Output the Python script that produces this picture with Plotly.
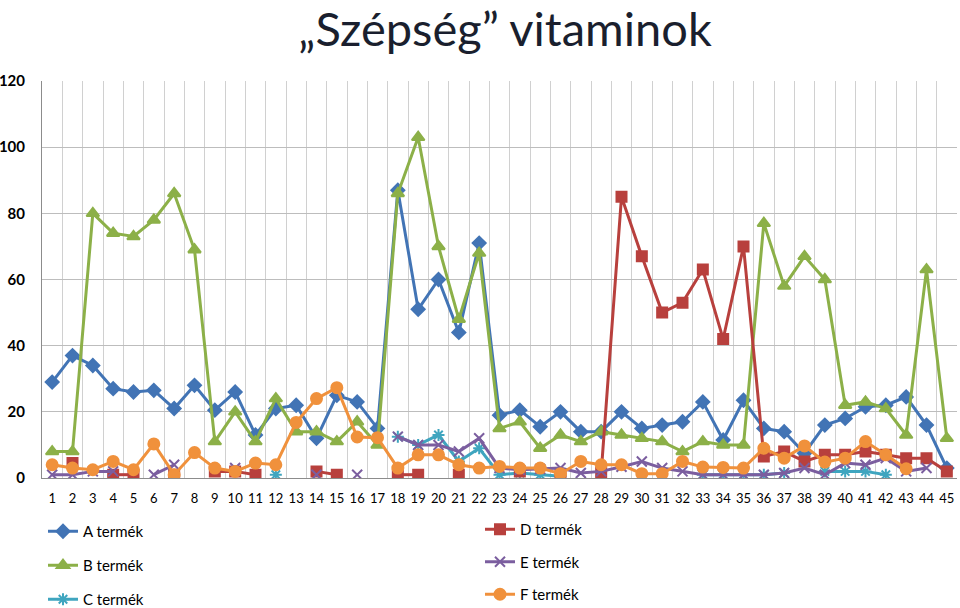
import plotly.graph_objects as go

categories = list(range(1, 46))

a_termek = [29, 37, 34, 27, 26, 26.5, 21, 28, 20.5, 26, 13, 21, 22, 12, 25, 23, 15, 87, 51, 60,
            44, 71, 19, 20.5, 15.5, 20, 14, 14, 20, 15, 16, 17, 23, 11.5, 23.5, 15, 14, 7.5, 16, 18,
            21.5, 22, 24.5, 16, 3]
b_termek = [8, 8, 80, 74, 73, 78, 86, 69, 11, 20, 11, 24, 14, 14, 11, 17, 10, 86, 103, 70,
            48, 68, 15, 17, 9, 13, 11, 14, 13, 12, 11, 8, 11, 10, 10, 77, 58, 67, 60, 22,
            23, 21, 13, 63, 12]
c_termek = [None, None, None, None, None, None, None, None, None, None, None, 1, None, None, None, None, None, 12.5, 10, 13,
            5, 9, 1, 1.5, 1, 0.5, None, 2, None, None, None, None, 1, 1, 1, 1, 1.5, None, 2, 2,
            2, 1, None, None, None]
d_termek = [None, 4.5, None, 1, 1, None, 1, None, 2, 2, 1, None, None, 2, 1, None, None, 1, 1, None,
            1, None, None, 2, None, 1, None, 1.5, 85, 67, 50, 53, 63, 42, 70, 6.5, 8, 5, 7, 7,
            8, 7, 6, 6, 2]
e_termek = [1, 1, 2, 2, None, 1, 4, None, None, 3, None, None, None, 1, None, 1, None, 12.5, 10, 10,
            8, 12, 3, 2.5, 2.7, 3, 1.5, 2, 3.4, 5, 3, 2, 1, 1, 1, 1, 1.5, 3, 1, 4.5,
            4, 6, 2, 3, None]
f_termek = [4, 3, 2.5, 5, 2.5, 10.3, 1, 7.7, 3, 2, 4.5, 4, 16.8, 24, 27.3, 12.4, 12.2, 3, 7, 7,
            4, 3, 3.5, 3, 3, 1.3, 5, 4, 4, 1.3, 1.3, 5, 3.3, 3.2, 3, 9, 6, 9.7, 4.8, 6,
            11, 7, 2.8, None, None]

series = [
    ("A termék", a_termek, "#4274B5", "diamond", 10, "legend"),
    ("B termék", b_termek, "#8CB048", "triangle-up", 11, "legend"),
    ("C termék", c_termek, "#3FA5BF", "asterisk-open", 10, "legend"),
    ("D termék", d_termek, "#B8403D", "square", 10, "legend2"),
    ("E termék", e_termek, "#7B5E9F", "x-thin-open", 10, "legend2"),
    ("F termék", f_termek, "#F0913C", "circle", 11, "legend2"),
]

fig = go.Figure()
for name, vals, color, sym, size, lg in series:
    fig.add_trace(go.Scatter(
        x=categories, y=vals, name=name, mode="lines+markers",
        line=dict(color=color, width=3),
        marker=dict(symbol=sym, size=size, color=color,
                    line=dict(color=color, width=2)),
        legend=lg, legendgroup=name, connectgaps=False,
    ))

font_family = "Lato, 'Open Sans', sans-serif"
legend_common = dict(
    xref="container", yref="container", yanchor="top", xanchor="left",
    font=dict(size=15, color="#000000", family=font_family),
    traceorder="grouped", bgcolor="rgba(0,0,0,0)",
    itemwidth=30,
)

fig.update_layout(
    width=960, height=608,
    margin=dict(l=42, r=3, t=81, b=130, autoexpand=False),
    paper_bgcolor="white", plot_bgcolor="white",
    font=dict(family=font_family, color="#000000"),
    title=dict(text="„Szépség” vitaminok", x=0.526, xanchor="center", y=0.952, yanchor="middle",
               font=dict(size=47, color="#1A1F2E", family=font_family)),
    xaxis=dict(
        range=[0.5, 45.5], tickmode="array", tickvals=categories,
        ticktext=[str(c) for c in categories], showgrid=False,
        tickfont=dict(size=13, color="#000000"), tickangle=0,
        showline=True, linecolor="#8C8C8C", linewidth=1, ticks="", ticklabelstandoff=8,
        minor=dict(tick0=0.5, dtick=1, showgrid=True, gridcolor="#D0D0D0", gridwidth=1),
        zeroline=False, fixedrange=True, automargin=False,
    ),
    yaxis=dict(
        range=[0, 120], dtick=20, showgrid=True, gridcolor="#BDBDBD", gridwidth=1,
        tickfont=dict(size=15, color="#000000", family=font_family, weight="bold"),
        showline=True, linecolor="#8C8C8C", linewidth=1, zeroline=False, ticklabelstandoff=13,
        fixedrange=True, automargin=False,
    ),
    legend=dict(x=43 / 960, y=1 - 515 / 608, tracegroupgap=11.5, **legend_common),
    legend2=dict(x=480 / 960, y=1 - 513 / 608, tracegroupgap=10, **legend_common),
    showlegend=True,
)

fig.write_html("out.html", config={"displayModeBar": False},
               post_script="document.body.style.margin='0px';")
